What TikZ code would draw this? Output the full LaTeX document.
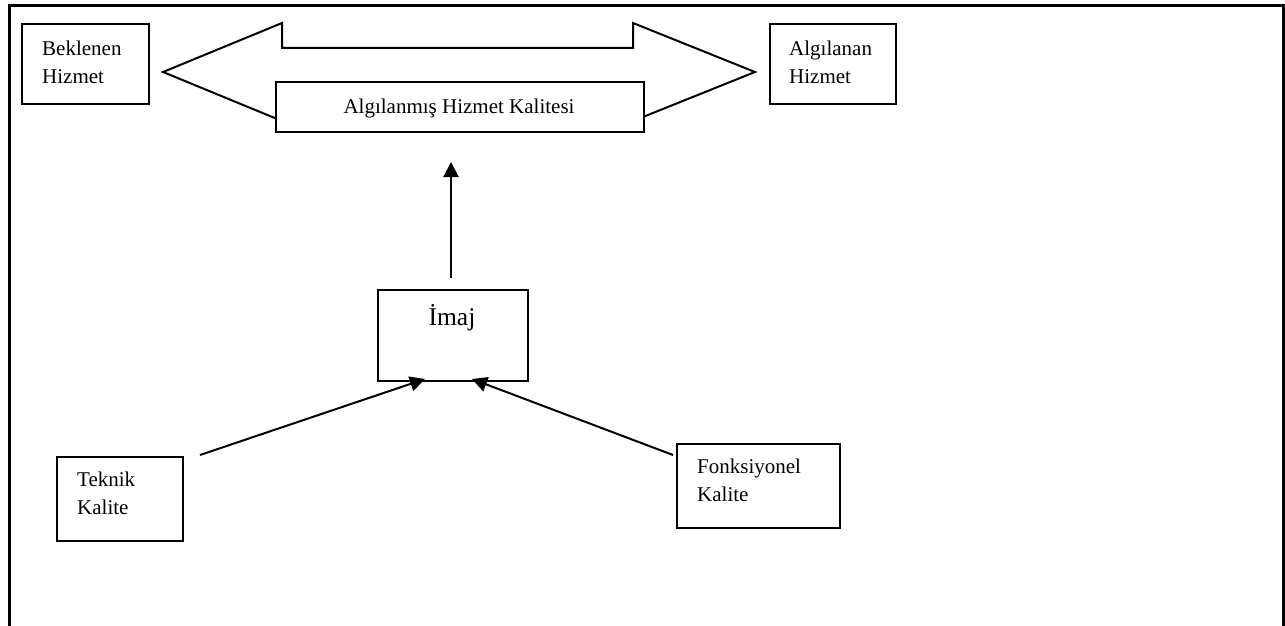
\documentclass[tikz,border=0pt]{standalone}
\usepackage{fontspec}
\setmainfont{Liberation Serif}
\usetikzlibrary{arrows.meta}
\begin{document}
\begin{tikzpicture}[x=1pt,y=-1pt,
  box/.style={draw,line width=2pt,fill=white,inner sep=0pt,anchor=north west},
  lbl/.style={inner sep=0pt,align=left,anchor=north west,font={\fontsize{21}{28}\selectfont}},
  conn/.style={line width=2pt,-{Triangle[length=15pt,width=15pt]}}]
\useasboundingbox (0,0) rectangle (1285,626);
% outer frame
\draw[line width=3pt] (9,626) -- (9,6) -- (1283,6) -- (1283,626);
% boxes
\node[box,minimum width=127pt,minimum height=80pt] (bek) at (21,23) {};
\node[lbl] (bekt) at (42,40.5) {Beklenen\\Hizmet};
\node[box,minimum width=126pt,minimum height=80pt] (alg) at (769,23) {};
\node[lbl] (algt) at (789,40.5) {Algılanan\\Hizmet};
% double arrow
\draw[line width=2pt,fill=white,line join=miter] (163,72) -- (282,23) -- (282,48) -- (633,48) -- (633,23) -- (755,72)
  -- (633,121) -- (633,96) -- (282,96) -- (282,121) -- cycle;
\node[box,minimum width=368pt,minimum height=50pt] (ahk) at (275,81) {};
\node[inner sep=0pt,anchor=base,font={\fontsize{21}{28}\selectfont}] (ahkt) at (459,113) {Algılanmış Hizmet Kalitesi};
% image box
\node[box,minimum width=150pt,minimum height=91pt] (imaj) at (377,289) {};
\node[inner sep=0pt,anchor=base,font={\fontsize{25.5}{30}\selectfont}] (imajt) at (452,325) {İmaj};
% bottom boxes
\node[box,minimum width=126pt,minimum height=84pt] (tek) at (56,456) {};
\node[lbl] (tekt) at (77,471.5) {Teknik\\Kalite};
\node[box,minimum width=163pt,minimum height=84pt] (fon) at (676,443) {};
\node[lbl] (font) at (697,458.5) {Fonksiyonel\\Kalite};
% connectors
\coordinate (vs) at (451,278);
\coordinate (ve) at (451,162);
\coordinate (ts) at (200,455);
\coordinate (te) at (425,379);
\coordinate (fs) at (673,455);
\coordinate (fe) at (472,379);
\draw[conn] (vs) -- (ve);
\draw[conn] (ts) -- (te);
\draw[conn] (fs) -- (fe);
\end{tikzpicture}
\end{document}
